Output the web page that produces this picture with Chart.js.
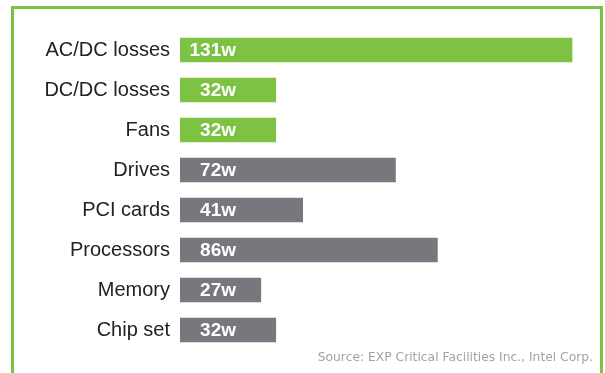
<!DOCTYPE html>
<html>
<head>
<meta charset="utf-8">
<script src="https://cdn.jsdelivr.net/npm/chart.js@4"></script>
<style>
html,body{margin:0;padding:0;background:#fff;}
#wrap{position:relative;width:605px;height:373px;}
#frame{position:absolute;left:11px;top:6px;width:586px;height:364px;border:3px solid #7cc242;pointer-events:none;}
canvas{position:absolute;left:0;top:0;}
</style>
</head>
<body>
<div id="wrap">
<canvas id="c" width="605" height="373"></canvas>
<div id="frame"></div>
</div>
<script>
const categories = ["AC/DC losses","DC/DC losses","Fans","Drives","PCI cards","Processors","Memory","Chip set"];
const watts = [131, 32, 32, 72, 41, 86, 27, 32];
const groups = ["power","power","power","other","other","other","other","other"];
const sourceNote = "Source: EXP Critical Facilities Inc., Intel Corp.";

const GREEN = "#7dc242";
const GRAY = "#78777e";

const valueLabels = {
  id: "valueLabels",
  afterDatasetsDraw(chart) {
    const ctx = chart.ctx;
    const meta = chart.getDatasetMeta(0);
    ctx.save();
    ctx.fillStyle = "#ffffff";
    ctx.font = "bold 19px 'Liberation Sans', Arial, sans-serif";
    ctx.textAlign = "right";
    ctx.textBaseline = "middle";
    meta.data.forEach((bar, i) => {
      ctx.fillText(watts[i] + "w", bar.base + 56, bar.y + 1);
    });
    ctx.restore();
  }
};

const sourcePlugin = {
  id: "sourceNote",
  afterDraw(chart) {
    const ctx = chart.ctx;
    ctx.save();
    ctx.fillStyle = "#a3a3a3";
    ctx.font = "12.3px 'DejaVu Sans', Verdana, sans-serif";
    ctx.textAlign = "right";
    ctx.textBaseline = "alphabetic";
    ctx.fillText(sourceNote, 593, 361);
    ctx.restore();
  }
};

new Chart(document.getElementById("c"), {
  type: "bar",
  data: {
    labels: categories,
    datasets: [{
      data: watts,
      backgroundColor: groups.map(g => g === "power" ? GREEN : GRAY),
      borderWidth: 0,
      barThickness: 24
    }]
  },
  options: {
    indexAxis: "y",
    responsive: false,
    animation: false,
    events: [],
    layout: { padding: { left: 0, right: 15, top: 30, bottom: 23 } },
    plugins: { legend: { display: false }, tooltip: { enabled: false } },
    scales: {
      x: { display: false, min: 0, max: 137 },
      y: {
        grid: { display: false, drawTicks: false },
        border: { display: false },
        afterFit(scale) { scale.width = 180; },
        ticks: {
          color: "#222222",
          padding: 10,
          font: { family: "'Liberation Sans', Arial, sans-serif", size: 20 }
        }
      }
    }
  },
  plugins: [valueLabels, sourcePlugin]
});
</script>
</body>
</html>
